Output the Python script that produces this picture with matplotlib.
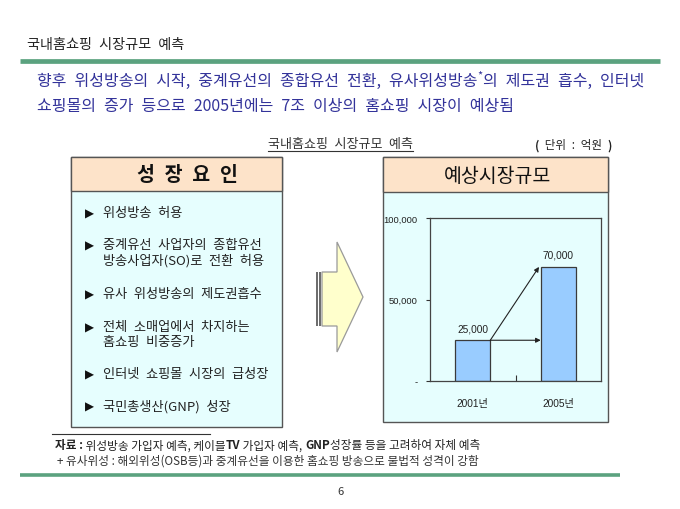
import matplotlib
matplotlib.use("Agg")
import matplotlib.pyplot as plt
from matplotlib import font_manager as fm
from matplotlib.patches import Rectangle, Polygon

# ---------------- data ----------------
years = ['2001년', '2005년']
market = [25000, 70000]
value_labels = ['25,000', '70,000']
ytick_vals = [0, 50000, 100000]
ytick_labels = ['-', '50,000', '100,000']

page_title = '국내홈쇼핑 시장규모 예측'
headline = ['향후 위성방송의 시작, 중계유선의 종합유선 전환, 유사위성방송', '*',
            '의 제도권 흡수, 인터넷']
headline2 = '쇼핑몰의 증가 등으로 2005년에는 7조 이상의 홈쇼핑 시장이 예상됨'
chart_title = '국내홈쇼핑 시장규모 예측'
unit_label = ['(', ' 단위 : 억원 ', ')']
left_header = '성 장 요 인'
right_header = '예상시장규모'
factors = [
    ['위성방송 허용'],
    ['중계유선 사업자의 종합유선', '방송사업자(SO)로 전환 허용'],
    ['유사 위성방송의 제도권흡수'],
    ['전체 소매업에서 차지하는', '홈쇼핑 비중증가'],
    ['인터넷 쇼핑몰 시장의 급성장'],
    ['국민총생산(GNP) 성장'],
]
source_runs = [('자료 :', 'bold'), (' 위성방송 가입자 예측, 케이블', 'normal'), ('TV', 'bold'),
               (' 가입자 예측, ', 'normal'), ('GNP', 'bold'),
               ('성장률 등을 고려하여 자체 예측', 'normal')]
note_text = '+ 유사위성 : 해외위성(OSB등)과 중계유선을 이용한 홈쇼핑 방송으로 불법적 성격이 강함'
page_no = '6'

# ---------------- fonts ----------------
names = {f.name for f in fm.fontManager.ttflist}
KR = 'Noto Sans CJK KR'
narrow = 'Liberation Sans Narrow' if 'Liberation Sans Narrow' in names else 'Liberation Sans'
plt.rcParams['font.family'] = [KR, 'DejaVu Sans']


def sp(s):
    # wider word spacing like the original Gulim typeface
    return s.replace(' ', '\u2002')


W, H = 680, 510
fig = plt.figure(figsize=(W / 100, H / 100), dpi=100)
fig.patch.set_facecolor('white')
bg = fig.add_axes([0, 0, 1, 1])
bg.set_xlim(0, W)
bg.set_ylim(H, 0)
bg.axis('off')

GREEN = '#5BA27F'
BLUE = '#33339A'
HEAD = '#FDE3C9'
BODY = '#E6FEFE'
EDGE = '#555555'

fig.canvas.draw()
renderer = fig.canvas.get_renderer()


def text_width(s, **kw):
    a = bg.text(0, 0, '|' + s + '|', **kw)
    b = bg.text(0, 0, '||', **kw)
    wa = a.get_window_extent(renderer).width
    wb = b.get_window_extent(renderer).width
    a.remove(); b.remove()
    return (wa - wb) * W / fig.bbox.width


def draw_runs(x, y, runs, ha='left', wide=True, **kw):
    items = []
    total = 0
    for s, props in runs:
        kk = dict(kw); kk.update(props)
        dy = kk.pop('dy', 0)
        s2 = sp(s) if wide else s
        w = text_width(s2, **kk)
        items.append((s2, dy, kk, w))
        total += w
    if ha == 'right':
        x -= total
    for s, dy, kk, w in items:
        bg.text(x, y + dy, s, va='center', ha='left', **kk)
        x += w
    return total


# page title and green rule
bg.text(27, 45, sp(page_title), fontsize=10.2, color='#222222', va='center')
bg.plot([20, 660], [62, 62], color=GREEN, lw=3.4, solid_capstyle='butt')

# headline
draw_runs(37, 81, [(headline[0], {}),
                   (headline[1], {'fontsize': 8, 'dy': -5}),
                   (headline[2], {})], fontsize=11.5, color=BLUE)
bg.text(37, 107, sp(headline2), fontsize=11.5, color=BLUE, va='center')

# chart title + unit
bg.text(340, 145, sp(chart_title), fontsize=9.4, color='#333333', va='center', ha='center')
tw = text_width(sp(chart_title), fontsize=9.4)
bg.plot([340 - tw / 2, 340 + tw / 2], [152, 152], color='#333333', lw=0.8)
draw_runs(612, 146, [(unit_label[0], {'fontweight': 'bold'}),
                     (unit_label[1], {}),
                     (unit_label[2], {'fontweight': 'bold'})],
          ha='right', fontsize=8.3, color='#222222')

# left panel
bg.add_patch(Rectangle((71, 158), 211, 270, facecolor=BODY, edgecolor=EDGE, lw=1))
bg.add_patch(Rectangle((71, 158), 211, 34, facecolor=HEAD, edgecolor=EDGE, lw=1))
bg.text(187, 176, sp(left_header), fontsize=14, fontweight='bold', color='#111111',
        ha='center', va='center')
first_y = [214, 246, 295, 328, 375, 407]
for fy, lines in zip(first_y, factors):
    bg.text(89, fy, '▶', fontsize=8.5, color='#111111', ha='center', va='center',
            family=['DejaVu Sans'])
    for k, ln in enumerate(lines):
        bg.text(103, fy + 15 * k, sp(ln), fontsize=9.5, color='#222222', va='center')

# right panel
bg.add_patch(Rectangle((383, 158), 225, 265, facecolor=BODY, edgecolor=EDGE, lw=1))
bg.add_patch(Rectangle((383, 158), 225, 35, facecolor=HEAD, edgecolor=EDGE, lw=1))
bg.text(497, 177, right_header, fontsize=14, fontweight='normal', color='#111111',
        ha='center', va='center')

# middle block arrow
arrow_pts = [(322, 273), (337, 273), (337, 243), (363, 298), (337, 353), (337, 327), (322, 327)]
bg.add_patch(Polygon(arrow_pts, closed=True, facecolor='#FFFFCC', edgecolor='#9A9A9A', lw=0.9))
bg.add_patch(Rectangle((315.5, 273), 2.2, 54, facecolor='#6E6E6E', edgecolor='none'))
bg.add_patch(Rectangle((319.2, 273), 1.8, 54, facecolor='#6E6E6E', edgecolor='none'))

# bottom notes
bg.plot([52, 210], [435, 435], color='#333333', lw=0.8)
draw_runs(55, 446, [(s, {'fontweight': w}) for s, w in source_runs], wide=False,
          fontsize=8.4, color='#222222')
bg.text(57, 461, note_text, fontsize=8.4, color='#333333', va='center')
bg.plot([20, 620], [476, 476], color=GREEN, lw=2.6, solid_capstyle='butt')
bg.text(340, 492, page_no, fontsize=8, color='#333333', ha='center', va='center')

# ---------------- bar chart ----------------
L, R, T, B = 430, 601, 219, 382
ax = fig.add_axes([L / W, 1 - B / H, (R - L) / W, (B - T) / H])
ax.set_facecolor('none')
bw = 0.41
xs = list(range(len(years)))
ax.bar(xs, market, width=bw, color='#99CCFF', edgecolor='#3A3A3A', lw=0.9, zorder=2)
ax.set_xlim(-0.5, len(years) - 0.5)
ax.set_ylim(0, 100000)
ax.set_yticks(ytick_vals)
ax.set_yticklabels(ytick_labels, family=[narrow, KR], fontsize=6.8, color='#222222')
ax.set_xticks(xs)
ax.set_xticklabels(years, family=[narrow, KR], fontsize=7.3, color='#222222')
ax.set_xticks([0.5], minor=True)
ax.tick_params(axis='x', which='major', length=0, pad=12)
ax.tick_params(axis='x', which='minor', direction='in', length=4, width=0.8, color='#333333')
ax.tick_params(axis='y', direction='out', length=3, width=0.8, color='#333333', pad=6)
for sp_ in ax.spines.values():
    sp_.set_color('#444444')
    sp_.set_linewidth(0.9)
for x, v, lab in zip(xs, market, value_labels):
    ax.annotate(lab, (x, v), xytext=(0, 5), textcoords='offset points', ha='center',
                va='bottom', fontsize=7.3, family=[narrow, KR], color='#222222')
# growth arrows
start = (xs[0] + bw / 2, market[0])
ax.annotate('', xy=(xs[1] - bw / 2, market[0]), xytext=start,
            arrowprops=dict(arrowstyle='-|>', color='#222222', lw=0.8,
                            mutation_scale=7, shrinkA=0, shrinkB=0))
ax.annotate('', xy=(xs[1] - bw / 2 - 0.02, market[1]), xytext=start,
            arrowprops=dict(arrowstyle='-|>', color='#222222', lw=0.8,
                            mutation_scale=7, shrinkA=0, shrinkB=0))

fig.savefig('out.png', dpi=100, facecolor='white')
